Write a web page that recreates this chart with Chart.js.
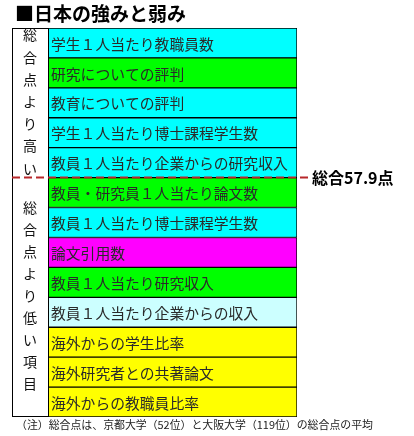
<!DOCTYPE html>
<html><head><meta charset="utf-8">
<script src="https://cdn.jsdelivr.net/npm/chart.js@4"></script>
<style>html,body{margin:0;padding:0;background:#fff;}canvas{display:block;}</style>
</head><body>
<canvas id="c" width="414" height="436"></canvas>
<script>
const categories = [
  "学生１人当たり教職員数",
  "研究についての評判",
  "教育についての評判",
  "学生１人当たり博士課程学生数",
  "教員１人当たり企業からの研究収入",
  "教員・研究員１人当たり論文数",
  "教員１人当たり博士課程学生数",
  "論文引用数",
  "教員１人当たり研究収入",
  "教員１人当たり企業からの収入",
  "海外からの学生比率",
  "海外研究者との共著論文",
  "海外からの教職員比率"
];
const rowValues = [1,1,1,1,1,1,1,1,1,1,1,1,1];
const rowColors = ["#00ffff","#00ff00","#00ffff","#00ffff","#00ffff","#00ff00","#00ffff","#ff00ff","#00ff00","#ccffff","#ffff00","#ffff00","#ffff00"];
const groupAboveLabel = ["総","合","点","よ","り","高","い"];
const groupBelowLabel = ["総","合","点","よ","り","低","い","項","目"];
const aboveCount = 5;
const overallScore = 57.9;
const titleText = "■日本の強みと弱み";
const noteText = "（注）総合点は、京都大学（52位）と大阪大学（119位）の総合点の平均";

const JP = '"Noto Sans CJK JP", sans-serif';

const decor = {
  id: 'decor',
  afterDatasetsDraw(chart) {
    const ctx = chart.ctx;
    const ys = chart.scales.y;
    const ca = chart.chartArea;
    ctx.save();
    // row labels
    ctx.fillStyle = '#2a2a2a';
    ctx.font = '14.8px ' + JP;
    ctx.textBaseline = 'middle';
    ctx.textAlign = 'left';
    categories.forEach((c, i) => {
      ctx.fillText(c, ca.left + 3, ys.getPixelForValue(i) + 1);
    });
    // left group column
    const colL = 12, colR = ca.left;
    ctx.strokeStyle = '#000';
    ctx.lineWidth = 1;
    ctx.strokeRect(colL + 0.5, ca.top + 0.5, colR - colL, ca.bottom - ca.top - 1);
    const splitY = ys.getPixelForValue(aboveCount - 0.5);
    ctx.fillStyle = '#111';
    ctx.font = '14px ' + JP;
    ctx.textAlign = 'center';
    const cx = (colL + colR) / 2;
    groupAboveLabel.forEach((ch, i) => ctx.fillText(ch, cx, 35 + i * 22.2));
    groupBelowLabel.forEach((ch, i) => ctx.fillText(ch, cx, 208 + i * 22));
    // dashed line
    ctx.strokeStyle = '#b8272a';
    ctx.lineWidth = 2;
    ctx.setLineDash([8, 4]);
    ctx.beginPath();
    ctx.moveTo(colL, splitY);
    ctx.lineTo(309, splitY);
    ctx.stroke();
    ctx.setLineDash([]);
    ctx.fillStyle = '#000';
    ctx.font = 'bold 16px ' + JP;
    ctx.textAlign = 'left';
    ctx.fillText('総合' + overallScore + '点', 312, splitY);
    // title
    ctx.font = 'bold 19px ' + JP;
    ctx.fillText(titleText, 15, 14);
    // note
    ctx.fillStyle = '#222';
    ctx.font = '10.9px ' + JP;
    ctx.fillText(noteText, 16, 425);
    ctx.restore();
  }
};

new Chart(document.getElementById('c'), {
  type: 'bar',
  data: {
    labels: categories,
    datasets: [{
      data: rowValues,
      backgroundColor: rowColors,
      borderColor: '#000',
      borderWidth: 1,
      borderSkipped: false,
      barPercentage: 1,
      categoryPercentage: 1
    }]
  },
  options: {
    indexAxis: 'y',
    responsive: false,
    animation: false,
    layout: { padding: { left: 48, right: 117, top: 28, bottom: 19 } },
    scales: {
      x: { display: false, min: 0, max: 1 },
      y: { display: false }
    },
    plugins: { legend: { display: false }, tooltip: { enabled: false }, title: { display: false } }
  },
  plugins: [decor]
});
</script>
</body></html>
